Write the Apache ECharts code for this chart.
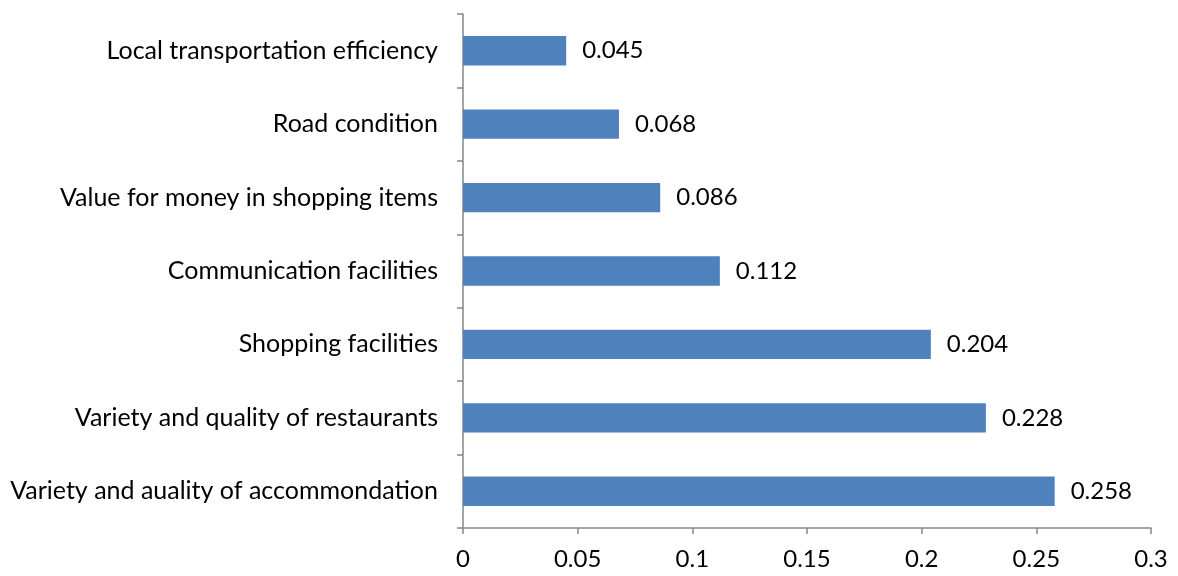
<!DOCTYPE html>
<html>
<head>
<meta charset="utf-8">
<script src="https://cdn.jsdelivr.net/npm/echarts@6/dist/echarts.min.js"></script>
<style>html,body{margin:0;padding:0;background:#fff;}#c{width:1178px;height:576px;}</style>
</head>
<body>
<div id="c"></div>
<script>
const categories = [
  "Local transportation efficiency",
  "Road condition",
  "Value for money in shopping items",
  "Communication facilities",
  "Shopping facilities",
  "Variety and quality of restaurants",
  "Variety and auality of accommondation"
];
const values = [0.045, 0.068, 0.086, 0.112, 0.204, 0.228, 0.258];
const xTicks = { min: 0, max: 0.3, interval: 0.05 };

const FONT = "Lato, 'Open Sans', sans-serif";
const chart = echarts.init(document.getElementById('c'), null, { renderer: 'canvas' });
chart.setOption({
  animation: false,
  backgroundColor: '#ffffff',
  grid: { left: 463, right: 27, top: 14, bottom: 48, containLabel: false },
  xAxis: {
    type: 'value',
    min: xTicks.min, max: xTicks.max, interval: xTicks.interval,
    axisLine: { show: true, lineStyle: { color: '#868686', width: 1.5 } },
    axisTick: { show: true, length: 6, lineStyle: { color: '#868686', width: 1.5 } },
    splitLine: { show: false },
    axisLabel: { color: '#000', fontFamily: FONT, fontSize: 24, margin: 19,
      formatter: v => String(parseFloat(v.toFixed(2))) }
  },
  yAxis: {
    type: 'category',
    data: categories,
    inverse: true,
    axisLine: { show: true, lineStyle: { color: '#868686', width: 1.5 } },
    axisTick: { show: true, length: 6, alignWithLabel: false, lineStyle: { color: '#868686', width: 1.5 } },
    axisLabel: { color: '#000', fontFamily: FONT, fontSize: 25, margin: 25 }
  },
  series: [{
    type: 'bar',
    data: values,
    barCategoryGap: '60%',
    itemStyle: { color: '#4F81BD' },
    label: { show: true, position: 'right', distance: 16, color: '#000', fontFamily: FONT, fontSize: 24,
      formatter: p => String(p.value) }
  }]
});
</script>
</body>
</html>
